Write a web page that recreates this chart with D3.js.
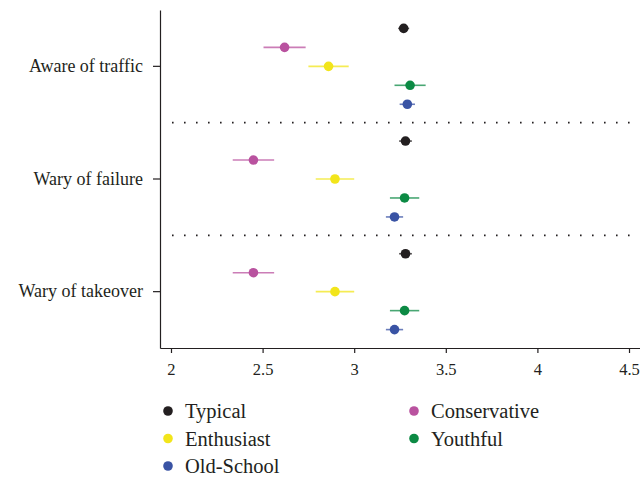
<!DOCTYPE html>
<html>
<head>
<meta charset="utf-8">
<script src="https://cdn.jsdelivr.net/npm/d3@7"></script>
<style>
  body { margin: 0; background: #fff; }
  text { font-family: "Liberation Serif", "DejaVu Serif", serif; fill: #231f20; }
</style>
</head>
<body>
<svg width="640" height="478"></svg>
<script>
// data
let categories = ["Aware of traffic", "Wary of failure", "Wary of takeover"]
let series = ["Typical", "Conservative", "Enthusiast", "Youthful", "Old-School"]
let colors = ["#231f20", "#b9529f", "#f2e51b", "#0c8a44", "#3953a4"]

let typical      = [3.27, 3.28, 3.28]
let conservative = [2.62, 2.45, 2.45]
let enthusiast   = [2.86, 2.895, 2.895]
let youthful     = [3.305, 3.275, 3.275]
let oldSchool    = [3.29, 3.22, 3.22]

// half width of the error bars
let typicalErr      = [0.03, 0.035, 0.035]
let conservativeErr = [0.115, 0.113, 0.113]
let enthusiastErr   = [0.11, 0.105, 0.105]
let youthfulErr     = [0.085, 0.08, 0.08]
let oldSchoolErr    = [0.042, 0.047, 0.047]

let xTicks = [2, 2.5, 3, 3.5, 4, 4.5]

let means = [typical, conservative, enthusiast, youthful, oldSchool]
let errs = [typicalErr, conservativeErr, enthusiastErr, youthfulErr, oldSchoolErr]

let rows = []
categories.forEach((c, i) => {
    series.forEach((s, j) => {
        rows.push({cat: c, series: s, mean: means[j][i], err: errs[j][i], color: colors[j]})
    })
})

let svg = d3.select('svg')
let plotLeft = 160, plotRight = 640, plotTop = 10, plotBottom = 348

let x = d3.scaleLinear().domain([1.94, 4.56]).range([plotLeft, plotRight])
let y = d3.scaleBand().domain(categories).range([plotTop, plotBottom])
let yInner = d3.scalePoint().domain(series).range([0, y.bandwidth()]).padding(0.97)

// dotted separators between groups
svg.append('g')
    .selectAll('line')
    .data(categories.slice(1))
    .enter()
    .append('line')
    .attr('x1', plotLeft + 12)
    .attr('x2', plotRight)
    .attr('y1', d => y(d))
    .attr('y2', d => y(d))
    .attr('stroke', '#231f20')
    .attr('stroke-width', 1.6)
    .attr('stroke-dasharray', '1.6,10.4')

// axes
let xAxis = svg.append('g')
    .attr('transform', `translate(0, ${plotBottom})`)
    .call(d3.axisBottom(x).tickValues(xTicks).tickFormat(d3.format('')).tickSize(5).tickSizeOuter(0))
let yAxis = svg.append('g')
    .attr('transform', `translate(${plotLeft}, 0)`)
    .call(d3.axisLeft(y).tickSize(7).tickSizeOuter(0).tickPadding(10))

for (let ax of [xAxis, yAxis]) {
    ax.select('.domain').attr('stroke', '#231f20').attr('stroke-width', 1.2)
    ax.selectAll('.tick line').attr('stroke', '#231f20').attr('stroke-width', 1.2)
    ax.selectAll('.tick text').attr('fill', '#231f20')
}
yAxis.selectAll('.tick text').style('font-size', '18px')
xAxis.selectAll('.tick text').style('font-size', '16.5px').attr('dy', '1.05em').attr('y', 10)

// error bars and points
let g = svg.append('g')
let mark = g.selectAll('g.mark')
    .data(rows)
    .enter()
    .append('g')
    .attr('transform', d => `translate(0, ${y(d.cat) + yInner(d.series)})`)

mark.append('line')
    .attr('x1', d => x(d.mean - d.err))
    .attr('x2', d => x(d.mean + d.err))
    .attr('stroke', d => d.color)
    .attr('stroke-opacity', 0.75)
    .attr('stroke-width', 1.6)

mark.append('circle')
    .attr('cx', d => x(d.mean))
    .attr('r', 4.8)
    .attr('fill', d => d.color)

// legend, two columns filled row by row
let legend = svg.append('g')
let item = legend.selectAll('g')
    .data(series)
    .enter()
    .append('g')
    .attr('transform', (d, i) => `translate(${i % 2 ? 414 : 168}, ${411 + Math.floor(i / 2) * 27.5})`)

item.append('circle')
    .attr('r', 4.8)
    .attr('fill', (d, i) => colors[i])

item.append('text')
    .attr('x', 17)
    .attr('dy', '0.35em')
    .style('font-size', '20.5px')
    .text(d => d)
</script>
</body>
</html>
